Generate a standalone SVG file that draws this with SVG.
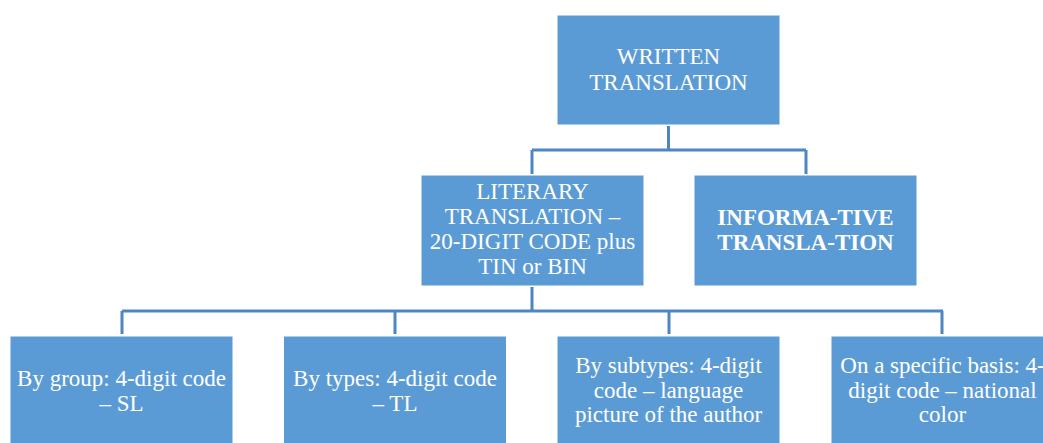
<svg xmlns="http://www.w3.org/2000/svg" width="1043" height="443" viewBox="0 0 1043 443">
<style>
.box{fill:#5B9BD5;stroke:#FFFFFF;stroke-width:1}
.t{font-family:"Liberation Serif","Times New Roman",serif;font-size:23px;fill:#FFFFFF;text-anchor:middle}
.b{font-weight:bold}
.c{fill:none;stroke:#4E86C4;stroke-width:3}
</style>
<rect width="1043" height="443" fill="#FFFFFF"/>
<g id="connectors">
<path class="c" d="M668.5 126V150M532 150H806M532 150V174M806 150V174"/>
<path class="c" d="M532 287V311M122 311H943M122 311V334M395 311V334M669 311V334M942 311V334"/>
</g>
<g id="written">
<rect class="box" x="557" y="15" width="223" height="110"/>
<text class="t" x="668.5" y="64">WRITTEN</text>
<text class="t" x="668.5" y="90">TRANSLATION</text>
</g>
<g id="literary">
<rect class="box" x="421" y="175" width="223" height="111"/>
<text class="t" x="532.5" y="199">LITERARY</text>
<text class="t" x="532.5" y="224">TRANSLATION –</text>
<text class="t" x="532.5" y="249">20-DIGIT CODE plus</text>
<text class="t" x="532.5" y="274">TIN or BIN</text>
</g>
<g id="informative">
<rect class="box" x="694" y="175" width="223" height="111"/>
<text class="t b" x="805.5" y="225">INFORMA-TIVE</text>
<text class="t b" x="805.5" y="250">TRANSLA-TION</text>
</g>
<g id="group">
<rect class="box" x="10" y="336" width="223" height="112"/>
<text class="t" x="121.5" y="386">By group: 4-digit code</text>
<text class="t" x="121.5" y="411">– SL</text>
</g>
<g id="types">
<rect class="box" x="283.5" y="336" width="223" height="112"/>
<text class="t" x="395" y="386">By types: 4-digit code</text>
<text class="t" x="395" y="411">– TL</text>
</g>
<g id="subtypes">
<rect class="box" x="557" y="336" width="223" height="112"/>
<text class="t" x="668.5" y="373">By subtypes: 4-digit</text>
<text class="t" x="668.5" y="398">code – language</text>
<text class="t" x="668.5" y="422">picture of the author</text>
</g>
<g id="specific">
<rect class="box" x="831" y="336" width="223" height="112"/>
<text class="t" x="942.5" y="373">On a specific basis: 4-</text>
<text class="t" x="942.5" y="398">digit code – national</text>
<text class="t" x="942.5" y="422">color</text>
</g>
</svg>
